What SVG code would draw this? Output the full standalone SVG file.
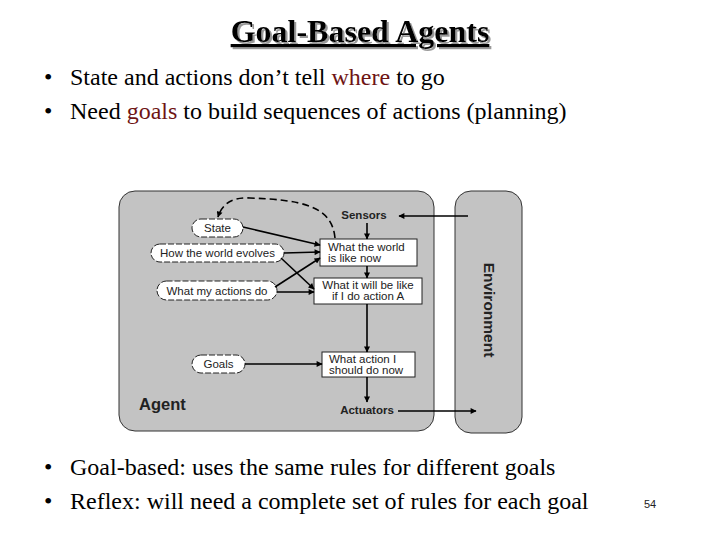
<svg xmlns="http://www.w3.org/2000/svg" width="720" height="540" viewBox="0 0 720 540">
<style>
.ser{font-family:"Liberation Serif","Times New Roman",serif;fill:#000}
.b{font-size:24px}
.red{fill:#6e1414}
.ov{fill:#fff;stroke:#222;stroke-width:1;stroke-dasharray:6 2}
.bx{fill:#fff;stroke:#222;stroke-width:1}
.lb{font-family:"Liberation Sans",Arial,sans-serif;font-size:11.5px;fill:#222}
.lbb{font-family:"Liberation Sans",Arial,sans-serif;font-weight:bold;fill:#222}
.ln{stroke:#000;stroke-width:1.6;fill:none}
</style>
<defs>
<marker id="ah" viewBox="0 0 10 10" refX="9" refY="5" markerWidth="7" markerHeight="6" orient="auto" markerUnits="userSpaceOnUse">
<path d="M0,0 L10,5 L0,10 z" fill="#000"/>
</marker>
<filter id="sh" x="-5%" y="-20%" width="115%" height="150%">
<feFlood flood-color="#999"/>
<feComposite in2="SourceAlpha" operator="in"/>
<feOffset dx="2" dy="2" result="s"/>
<feMerge><feMergeNode in="s"/><feMergeNode in="SourceGraphic"/></feMerge>
</filter>
</defs>
<rect width="720" height="540" fill="#fff"/>
<g id="title">
<text x="360" y="42" text-anchor="middle" class="ser" font-size="32" font-weight="bold" text-decoration="underline" filter="url(#sh)">Goal-Based Agents</text>
</g>
<g id="bullets-top">
<text x="44" y="85" class="ser b">•</text>
<text x="70" y="85" class="ser b">State and actions don’t tell <tspan class="red">where</tspan> to go</text>
<text x="44" y="119" class="ser b">•</text>
<text x="70" y="119" class="ser b">Need <tspan class="red">goals</tspan> to build sequences of actions (planning)</text>
</g>
<g id="agent">
<rect x="119" y="191" width="315" height="240" rx="16" ry="16" fill="#c3c3c3" stroke="#333" stroke-width="1"/>
<text x="139" y="410" class="lbb" font-size="16.5">Agent</text>
</g>
<g id="environment">
<rect x="455" y="191" width="67" height="242" rx="16" ry="16" fill="#c3c3c3" stroke="#333" stroke-width="1"/>
<text transform="translate(484,310) rotate(90)" text-anchor="middle" class="lbb" font-size="15.5">Environment</text>
</g>
<g id="sensors"><text x="364" y="219" text-anchor="middle" class="lbb" font-size="11.5">Sensors</text></g>
<g id="actuators"><text x="367" y="414" text-anchor="middle" class="lbb" font-size="11.5">Actuators</text></g>
<g id="state"><rect x="192" y="219" width="51" height="18" rx="9" class="ov"/><text x="217.5" y="232" text-anchor="middle" class="lb">State</text></g>
<g id="evolves"><rect x="151" y="244" width="133" height="18" rx="9" class="ov"/><text x="217.5" y="257" text-anchor="middle" class="lb">How the world evolves</text></g>
<g id="actions"><rect x="157" y="281" width="120" height="19" rx="9.5" class="ov"/><text x="217" y="294.5" text-anchor="middle" class="lb">What my actions do</text></g>
<g id="goals"><rect x="192" y="355" width="53" height="18" rx="9" class="ov"/><text x="218.5" y="368" text-anchor="middle" class="lb">Goals</text></g>
<g id="world-now"><rect x="320" y="239" width="97" height="27" class="bx"/><text x="328" y="251" class="lb">What the world</text><text x="328" y="262" class="lb">is like now</text></g>
<g id="will-be"><rect x="314" y="278" width="108" height="26" class="bx"/><text x="368" y="289" text-anchor="middle" class="lb">What it will be like</text><text x="368" y="300" text-anchor="middle" class="lb">if I do action A</text></g>
<g id="what-action"><rect x="322" y="352" width="93" height="25" class="bx"/><text x="329" y="363" class="lb">What action I</text><text x="329" y="374" class="lb">should do now</text></g>
<g id="connectors">
<path d="M468,216 L399,216" class="ln" marker-end="url(#ah)"/>
<path d="M398,411 L476,411" class="ln" marker-end="url(#ah)"/>
<path d="M367,223 L367,239" class="ln" marker-end="url(#ah)"/>
<path d="M367,266 L367,278" class="ln" marker-end="url(#ah)"/>
<path d="M367,304 L367,352" class="ln" marker-end="url(#ah)"/>
<path d="M367,377 L367,402" class="ln" marker-end="url(#ah)"/>
<path d="M243,227 L320,245" class="ln" marker-end="url(#ah)"/>
<path d="M284,253 L320,252" class="ln" marker-end="url(#ah)"/>
<path d="M281,258 L314,289" class="ln" marker-end="url(#ah)"/>
<path d="M275,287 L320,258" class="ln" marker-end="url(#ah)"/>
<path d="M277,292 L314,292" class="ln" stroke-width="1.2" marker-end="url(#ah)"/>
<path d="M245,364 L322,364" class="ln" stroke-width="1.2" marker-end="url(#ah)"/>
<path d="M335,238 C332,205 300,200 250,198 C232,197 222,204 218,217" class="ln" stroke-dasharray="7 4" marker-end="url(#ah)"/>
</g>
<g id="bullets-bottom">
<text x="44" y="475" class="ser b">•</text>
<text x="70" y="475" class="ser b">Goal-based: uses the same rules for different goals</text>
<text x="44" y="509" class="ser b">•</text>
<text x="70" y="509" class="ser b">Reflex: will need a complete set of rules for each goal</text>
</g>
<g id="page"><text x="644" y="508" font-family="Liberation Sans,Arial,sans-serif" font-size="11" fill="#222">54</text></g>
</svg>
